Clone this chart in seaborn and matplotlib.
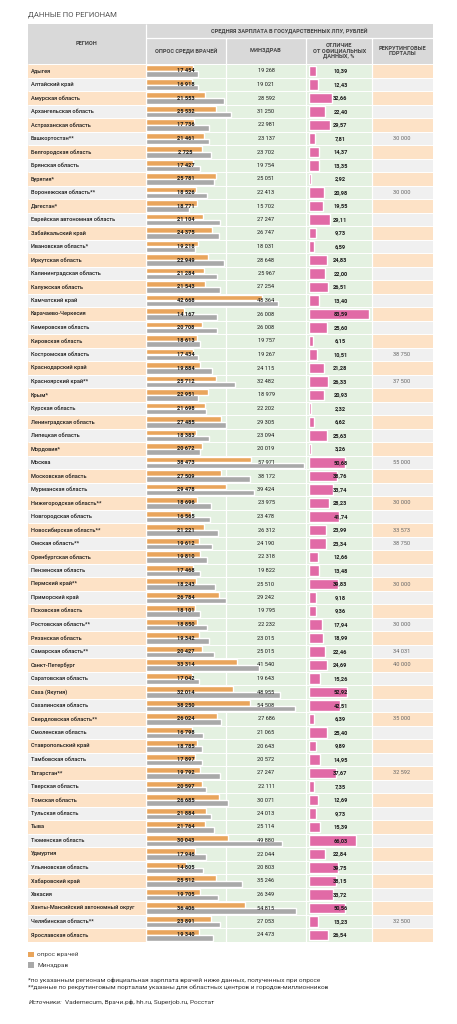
import numpy as np
import pandas as pd
import matplotlib
matplotlib.use("Agg")
import matplotlib.pyplot as plt
from matplotlib.patches import Rectangle
from matplotlib import font_manager
import seaborn as sns

# ---------------- data ----------------
regions = [
    "Адыгея", "Алтайский край", "Амурская область", "Архангельская область",
    "Астраханская область", "Башкортостан**", "Белгородская область", "Брянская область",
    "Бурятия*", "Воронежская область**", "Дагестан*", "Еврейская автономная область",
    "Забайкальский край", "Ивановская область*", "Иркутская область", "Калининградская область",
    "Калужская область", "Камчатский край", "Карачаево-Черкесия", "Кемеровская область",
    "Кировская область", "Костромская область", "Краснодарский край", "Красноярский край**",
    "Крым*", "Курская область", "Ленинградская область", "Липецкая область",
    "Мордовия*", "Москва", "Московская область", "Мурманская область",
    "Нижегородская область**", "Новгородская область", "Новосибирская область**", "Омская область**",
    "Оренбургская область", "Пензенская область", "Пермский край**", "Приморский край",
    "Псковская область", "Ростовская область**", "Рязанская область", "Самарская область**",
    "Санкт-Петербург", "Саратовская область", "Саха (Якутия)", "Сахалинская область",
    "Свердловская область**", "Смоленская область", "Ставропольский край", "Тамбовская область",
    "Татарстан**", "Тверская область", "Томская область", "Тульская область",
    "Тыва", "Тюменская область", "Удмуртия", "Ульяновская область",
    "Хабаровский край", "Хакасия", "Ханты-Мансийский автономный округ", "Челябинская область**",
    "Ярославская область",
]
survey = [
    17454, 16918, 21553, 25532, 17736, 21461, 20725, 17427,
    25781, 18526, 18771, 21104, 24375, 19218, 22949, 21284,
    21543, 42668, 14167, 20708, 18613, 17434, 19884, 25712,
    22951, 21698, 27485, 18383, 20672, 38473, 27509, 29478,
    18696, 16565, 21221, 19612, 19810, 17468, 18243, 26784,
    18101, 18850, 19342, 20427, 33314, 17042, 32014, 38250,
    26024, 16798, 18785, 17897, 19792, 20597, 26685, 21884,
    21764, 30043, 17946, 14805, 25512, 19705, 36406, 23891,
    19340,
]
minzdrav = [
    19268, 19021, 28592, 31250, 22981, 23137, 23702, 19754,
    25051, 22413, 15702, 27247, 26747, 18031, 28648, 25967,
    27254, 48364, 26008, 26008, 19757, 19267, 24115, 32482,
    18979, 22202, 29305, 23094, 20019, 57971, 38172, 39424,
    23975, 23478, 26312, 24190, 22318, 19822, 25510, 29242,
    19795, 22232, 23015, 25015, 41540, 19643, 48955, 54508,
    27686, 21065, 20643, 20572, 27247, 22111, 30071, 24013,
    25114, 49880, 22044, 20803, 35246, 26349, 54815, 27053,
    24473,
]
diff_pct = [
    10.39, 12.43, 32.66, 22.40, 29.57, 7.81, 14.37, 13.35,
    2.92, 20.98, 19.55, 29.11, 9.73, 6.59, 24.83, 22.00,
    26.51, 13.40, 83.59, 25.60, 6.15, 10.51, 21.28, 26.33,
    20.93, 2.32, 6.62, 25.63, 3.26, 50.68, 38.76, 33.74,
    28.23, 41.74, 23.99, 23.34, 12.66, 13.48, 39.83, 9.18,
    9.36, 17.94, 18.99, 22.46, 24.69, 15.26, 52.92, 42.51,
    6.39, 25.40, 9.89, 14.95, 37.67, 7.35, 12.69, 9.73,
    15.39, 66.03, 22.84, 39.75, 38.15, 33.72, 50.56, 13.23,
    26.54,
]
recruit = {
    "Башкортостан**": 30000, "Воронежская область**": 30000, "Костромская область": 38750,
    "Красноярский край**": 37500, "Москва": 55000, "Нижегородская область**": 30000,
    "Новосибирская область**": 33573, "Омская область**": 38750, "Пермский край**": 30000,
    "Ростовская область**": 30000, "Самарская область**": 34031, "Санкт-Петербург": 40000,
    "Свердловская область**": 35000, "Татарстан**": 32592, "Челябинская область**": 32500,
}
survey_label_override = {"Белгородская область": "2 725"}
series_names = ["опрос врачей", "Минздрав"]

title = "ДАННЫЕ ПО РЕГИОНАМ"
head_region = "РЕГИОН"
head_top = "СРЕДНЯЯ ЗАРПЛАТА В ГОСУДАРСТВЕННЫХ ЛПУ, РУБЛЕЙ"
head_cols = ["ОПРОС СРЕДИ ВРАЧЕЙ", "МИНЗДРАВ", "ОТЛИЧИЕ\nОТ ОФИЦИАЛЬНЫХ\nДАННЫХ, %", "РЕКРУТИНГОВЫЕ\nПОРТАЛЫ"]
foot1 = "*по указанным регионам официальная зарплата врачей ниже данных, полученных при опросе"
foot2 = "**данные по рекрутинговым порталам указаны для областных центров и городов-миллионников"
src_lbl = "Источники:"
src_txt = "Vademecum, Врачи.рф, hh.ru, Superjob.ru, Росстат"

# ---------------- style ----------------
ORANGE = "#e9a55c"
GREY = "#a9a9a9"
PINK = "#e16aa6"
PEACH = "#fde2c6"
LGREY = "#f0f0f0"
GREEN = "#e4f1e1"
HEAD = "#d9d9d9"
TXT = "#1a1a1a"

sns.set_theme(style="white")
avail = {f.name for f in font_manager.fontManager.ttflist}
fam = "Roboto" if "Roboto" in avail else "DejaVu Sans"
plt.rcParams["font.family"] = [fam, "DejaVu Sans"]

W, H = 457, 1024
fig = plt.figure(figsize=(W / 100, H / 100), dpi=100)
fig.patch.set_facecolor("white")

X0, X1, X2, X3, X4, X5 = 27.7, 145.7, 225.7, 306.0, 372.3, 432.7
HEAD_TOP, HEAD_MID, BODY_TOP = 23.5, 37.5, 64.25
ROW_H = 13.5
n = len(regions)
BODY_BOT = BODY_TOP + n * ROW_H
SCALE = 365.5        # roubles per pixel
DSCALE = 0.718       # pixels per percent
DX0 = 309.0

# background / table grid
bg = fig.add_axes([0, 0, 1, 1], zorder=0)
bg.set_xlim(0, W); bg.set_ylim(H, 0); bg.axis("off")
bg.add_patch(Rectangle((X0, HEAD_TOP), X5 - X0, BODY_TOP - HEAD_TOP, color=HEAD, lw=0))
for i in range(n):
    top = BODY_TOP + i * ROW_H
    side = PEACH if i % 2 == 0 else LGREY
    bg.add_patch(Rectangle((X0, top), X1 - X0, ROW_H, color=side, lw=0))
    bg.add_patch(Rectangle((X1, top), X4 - X1, ROW_H, color=GREEN, lw=0))
    bg.add_patch(Rectangle((X4, top), X5 - X4, ROW_H, color=side, lw=0))
bg.hlines([BODY_TOP + i * ROW_H for i in range(n + 1)], X0, X5, color="white", lw=0.7)
bg.vlines([X1, X2, X3, X4], BODY_TOP, BODY_BOT, color="white", lw=0.9)
bg.vlines([X1], HEAD_TOP, BODY_TOP, color="white", lw=0.9)
bg.hlines([HEAD_MID], X1, X5, color="white", lw=0.9)
bg.vlines([X2, X3, X4], HEAD_MID, BODY_TOP, color="white", lw=0.9)

# salary bars
long = pd.DataFrame({
    "region": regions * 2,
    "value": survey + minzdrav,
    "source": [series_names[0]] * n + [series_names[1]] * n,
})
ax_b = fig.add_axes([X1 / W, 1 - BODY_BOT / H, (X3 - X1) / W, (BODY_BOT - BODY_TOP) / H], zorder=1)
sns.barplot(data=long, y="region", x="value", hue="source", order=regions,
            hue_order=series_names, palette=[ORANGE, GREY], dodge=True, width=0.84,
            saturation=1, legend=False, ax=ax_b, orient="h")
ax_b.set_xlim(0, (X3 - X1) * SCALE)
ax_b.set_ylim(n - 0.5, -0.5)
ax_b.set_facecolor("none"); ax_b.axis("off")

# difference bars
ax_d = fig.add_axes([DX0 / W, 1 - BODY_BOT / H, (X4 - DX0) / W, (BODY_BOT - BODY_TOP) / H], zorder=1)
sns.barplot(x=diff_pct, y=regions, color=PINK, width=0.76, saturation=1, ax=ax_d, orient="h")
ax_d.set_xlim(0, (X4 - DX0) / DSCALE)
ax_d.set_ylim(n - 0.5, -0.5)
ax_d.set_facecolor("none"); ax_d.axis("off")

# text overlay
ov = fig.add_axes([0, 0, 1, 1], zorder=5)
ov.set_xlim(0, W); ov.set_ylim(H, 0); ov.axis("off"); ov.set_facecolor("none")

FS = 4.1
FSF = 4.65
ov.text(X0, 14.7, title, fontsize=5.6, color="#555555", va="center", ha="left")
ov.text((X0 + X1) / 2, (HEAD_TOP + BODY_TOP) / 2, head_region, fontsize=FS, weight="bold",
        color="#444444", ha="center", va="center")
ov.text((X1 + X5) / 2, (HEAD_TOP + HEAD_MID) / 2 + 0.5, head_top, fontsize=FS, weight="bold",
        color="#444444", ha="center", va="center")
for (a, b), lbl in zip([(X1, X2), (X2, X3), (X3, X4), (X4, X5)], head_cols):
    ov.text((a + b) / 2, (HEAD_MID + BODY_TOP) / 2, lbl, fontsize=FS, weight="bold",
            color="#444444", ha="center", va="center", linespacing=1.05)

fmt = lambda v: f"{v:,}".replace(",", " ")
for i, r in enumerate(regions):
    yc = BODY_TOP + (i + 0.5) * ROW_H
    ov.text(X0 + 3, yc, r, fontsize=FS, color=TXT, ha="left", va="center", weight="medium")
    ov.text(185.5, yc, survey_label_override.get(r, fmt(survey[i])), fontsize=FS,
            color=TXT, ha="center", va="center", weight="bold")
    ov.text(266.0, yc, fmt(minzdrav[i]), fontsize=FS, color=TXT, ha="center", va="center")
    ov.text(340.5, yc, f"{diff_pct[i]:.2f}".replace(".", ","), fontsize=FS, color=TXT,
            ha="center", va="center", weight="bold")
    if r in recruit:
        ov.text(401.7, yc, fmt(recruit[r]), fontsize=FS, color="#666666", ha="center", va="center")

# legend
for k, (name, col) in enumerate(zip(series_names, [ORANGE, GREY])):
    yy = 951.7 + k * 10.6
    ov.add_patch(Rectangle((28.3, yy), 5.2, 5.2, color=col, lw=0))
    ov.text(37.3, yy + 2.8, name, fontsize=FSF, color="#444444", ha="left", va="center")

ov.text(28.3, 980.7, foot1, fontsize=FSF, color="#333333", ha="left", va="center")
ov.text(28.3, 987.7, foot2, fontsize=FSF, color="#333333", ha="left", va="center")
ov.text(28.3, 1002.0, src_lbl, fontsize=FSF, color="#333333", ha="left", va="center", style="italic")
ov.text(65.0, 1002.0, src_txt, fontsize=FSF, color="#333333", ha="left", va="center")

fig.savefig("out.png", dpi=100, facecolor="white")
